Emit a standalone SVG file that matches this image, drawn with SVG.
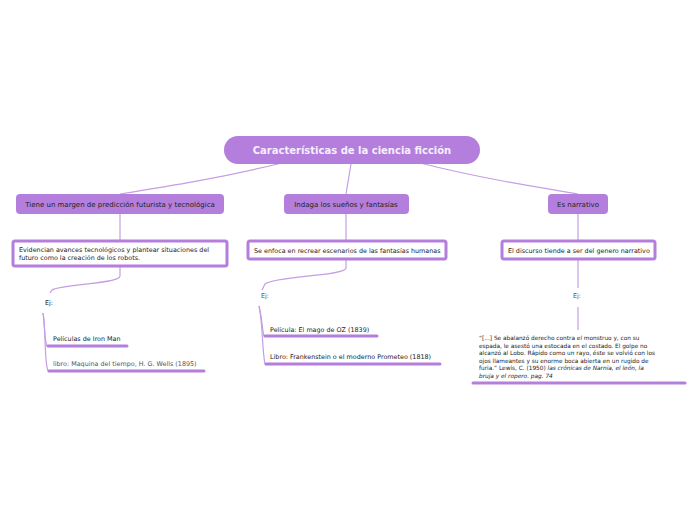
<svg xmlns="http://www.w3.org/2000/svg" width="696" height="520" viewBox="0 0 696 520">
<style>
.t{font-family:"DejaVu Sans",Verdana,sans-serif;fill:#222}
.n{fill:#b47fdc}
.c{fill:#fff;stroke:#b47fdc;stroke-width:3}
.l{fill:none;stroke:#c49de3;stroke-width:1.2}
.u{fill:none;stroke:#b47fdc;stroke-width:3;stroke-linecap:round}
.g{fill:#555}
</style>
<rect width="696" height="520" fill="#fff"/>
<g id="connectors">
<path class="l" d="M282,163 C220,178 170,186 120,194"/>
<path class="l" d="M351,164 L346,194"/>
<path class="l" d="M420,163 C480,178 530,186 578,194"/>
<path class="l" d="M120,214 V241"/>
<path class="l" d="M346,214 V241"/>
<path class="l" d="M578,214 V241"/>
<path class="l" d="M120,266 V276 C120,284 60,284 52,290 L50,293"/>
<path class="l" d="M346,259 V268 C346,276 275,276 265,284 L262,290"/>
<path class="l" d="M578,259 V288"/>
<path class="l" d="M578,307 V330"/>
<path class="l" d="M43,313 C45,325 44,338 47,346"/>
<path class="l" d="M43,313 C46,330 44,360 48,371"/>
<path class="l" d="M259,306 C262,318 262,328 264,336"/>
<path class="l" d="M259,306 C263,325 262,350 265,364"/>
<path class="u" d="M48,346 H127"/>
<path class="u" d="M49,371 H204"/>
<path class="u" d="M265,336 H377"/>
<path class="u" d="M266,364 H440"/>
<path class="u" d="M473,383 H685"/>
</g>
<g id="root">
<rect class="n" x="224" y="136" width="256" height="28" rx="14"/>
<text class="t" x="352" y="154" text-anchor="middle" font-size="10" font-weight="bold" style="fill:#f6eefc">Características de la ciencia ficción</text>
</g>
<g id="n1">
<rect class="n" x="16" y="194" width="208" height="20" rx="4"/>
<text class="t" x="120" y="207" text-anchor="middle" font-size="7">Tiene un margen de predicción futurista y tecnológica</text>
</g>
<g id="n2">
<rect class="n" x="284" y="194" width="125" height="20" rx="4"/>
<text class="t" x="346" y="207" text-anchor="middle" font-size="7">Indaga los sueños y fantasías</text>
</g>
<g id="n3">
<rect class="n" x="548" y="194" width="60" height="20" rx="4"/>
<text class="t" x="578" y="207" text-anchor="middle" font-size="7">Es narrativo</text>
</g>
<g id="n1c">
<rect class="c" x="13" y="241" width="214" height="25" rx="2"/>
<text class="t" font-size="6.4"><tspan x="19" y="252">Evidencian avances tecnológicos y plantear situaciones del</tspan><tspan x="19" y="260">futuro como la creación de los robots.</tspan></text>
</g>
<g id="n2c">
<rect class="c" x="248" y="241" width="198" height="18" rx="2"/>
<text class="t" x="254" y="252.5" font-size="6.4">Se enfoca en recrear escenarios de las fantasías humanas</text>
</g>
<g id="n3c">
<rect class="c" x="502" y="241" width="153" height="18" rx="2"/>
<text class="t" x="508" y="252.5" font-size="6.4">El discurso tiende a ser del genero narrativo</text>
</g>
<g id="ej1">
<text class="t" x="45" y="305" font-size="6.4">Ej:</text>
</g>
<g id="ej1a">
<text class="t" x="53" y="341" font-size="6.4">Películas de Iron Man</text>
</g>
<g id="ej1b">
<text class="t g" x="53" y="366" font-size="6.4">libro: Maquina del tiempo, H. G. Wells (1895)</text>
</g>
<g id="ej2">
<text class="t g" x="261" y="298" font-size="6.4">Ej:</text>
</g>
<g id="ej2a">
<text class="t" x="270" y="332" font-size="6.4">Película: El mago de OZ (1839)</text>
</g>
<g id="ej2b">
<text class="t" x="270" y="359" font-size="6.4">Libro: Frankenstein o  el moderno Prometeo (1818)</text>
</g>
<g id="ej3">
<text class="t g" x="573" y="298" font-size="6.4">Ej:</text>
</g>
<g id="ej3a">
<text class="t" font-size="5.8"><tspan x="479" y="340">“[...] Se abalanzó derecho contra el monstruo y, con su</tspan><tspan x="479" y="347.5">espada, le asestó una estocada en el costado. El golpe no</tspan><tspan x="479" y="355">alcanzó al Lobo. Rápido como un rayo, éste se volvió con los</tspan><tspan x="479" y="362.5">ojos llameantes y su enorme boca abierta en un rugido de</tspan><tspan x="479" y="370">furia.” Lewis, C. (1950) <tspan font-style="italic">las crónicas de Narnia, el león, la</tspan></tspan><tspan x="479" y="377.5" font-style="italic">bruja y el ropero. pag. 74</tspan></text>
</g>
</svg>
